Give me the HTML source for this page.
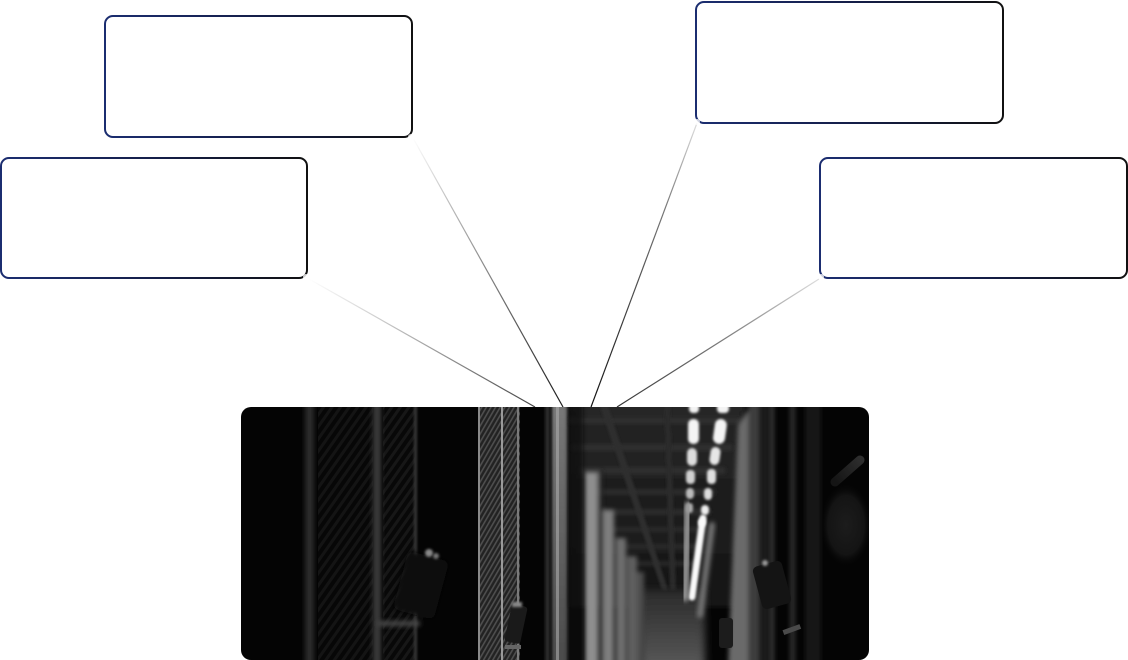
<!DOCTYPE html>
<html>
<head>
<meta charset="utf-8">
<style>
html,body{margin:0;padding:0;background:#fff;}
body{width:1128px;height:660px;overflow:hidden;font-family:"Liberation Sans",sans-serif;}
svg{display:block;}
</style>
</head>
<body>
<svg width="1128" height="660" viewBox="0 0 1128 660" xmlns="http://www.w3.org/2000/svg">
<defs>
  <linearGradient id="bd" x1="0" x2="1" y1="0" y2="0">
    <stop offset="0" stop-color="#1b2d70"/>
    <stop offset="0.55" stop-color="#141d45"/>
    <stop offset="1" stop-color="#111111"/>
  </linearGradient>
  <linearGradient id="l1" gradientUnits="userSpaceOnUse" x1="309" y1="279" x2="535" y2="407">
    <stop offset="0" stop-color="#ffffff"/><stop offset="0.3" stop-color="#cfcfcf"/><stop offset="1" stop-color="#444"/>
  </linearGradient>
  <linearGradient id="l2" gradientUnits="userSpaceOnUse" x1="413" y1="138" x2="563" y2="407">
    <stop offset="0" stop-color="#ffffff"/><stop offset="0.25" stop-color="#bbbbbb"/><stop offset="1" stop-color="#1a1a1a"/>
  </linearGradient>
  <linearGradient id="l3" gradientUnits="userSpaceOnUse" x1="697" y1="123" x2="591" y2="407">
    <stop offset="0" stop-color="#dddddd"/><stop offset="0.3" stop-color="#777"/><stop offset="1" stop-color="#111"/>
  </linearGradient>
  <linearGradient id="l4" gradientUnits="userSpaceOnUse" x1="819" y1="279" x2="617" y2="407">
    <stop offset="0" stop-color="#dddddd"/><stop offset="0.4" stop-color="#888"/><stop offset="1" stop-color="#333"/>
  </linearGradient>
  <clipPath id="ic"><rect x="241" y="407" width="628" height="253" rx="10"/></clipPath>
  <filter id="b1" x="-50%" y="-50%" width="200%" height="200%"><feGaussianBlur stdDeviation="1.2"/></filter>
  <filter id="b2" x="-50%" y="-50%" width="200%" height="200%"><feGaussianBlur stdDeviation="2.5"/></filter>
  <filter id="b4" x="-50%" y="-50%" width="200%" height="200%"><feGaussianBlur stdDeviation="4"/></filter>
  <pattern id="diag" width="7" height="7" patternUnits="userSpaceOnUse" patternTransform="rotate(35)">
    <rect width="7" height="7" fill="#080808"/><rect width="3" height="7" fill="#171717"/>
  </pattern>
  <pattern id="diag2" width="4" height="4" patternUnits="userSpaceOnUse" patternTransform="rotate(30)">
    <rect width="4" height="4" fill="#222"/><rect width="1.6" height="4" fill="#4e4e4e"/>
  </pattern>
  <linearGradient id="floor" x1="0" x2="0" y1="0" y2="1">
    <stop offset="0" stop-color="#2a2a2a"/><stop offset="1" stop-color="#5a5a5a"/>
  </linearGradient>
  <linearGradient id="wallL" x1="0" x2="0" y1="0" y2="1">
    <stop offset="0" stop-color="#9a9a9a"/><stop offset="1" stop-color="#5a5a5a"/>
  </linearGradient>
  <linearGradient id="ceil" x1="0" x2="0" y1="0" y2="1">
    <stop offset="0" stop-color="#262626"/><stop offset="1" stop-color="#151515"/>
  </linearGradient>
  <radialGradient id="hnd" cx="0.5" cy="0.5" r="0.5">
    <stop offset="0" stop-color="#1c1c1c"/><stop offset="0.7" stop-color="#141414"/><stop offset="1" stop-color="#050505" stop-opacity="0"/>
  </radialGradient>
  <linearGradient id="hbar" gradientUnits="userSpaceOnUse" x1="835" y1="480" x2="862" y2="458">
    <stop offset="0" stop-color="#1a1a1a"/><stop offset="1" stop-color="#3a3a3a"/>
  </linearGradient>
</defs>

<!-- connectors -->
<line x1="309" y1="279" x2="535" y2="407" stroke="url(#l1)" stroke-width="1.2"/>
<line x1="413" y1="138" x2="563" y2="407" stroke="url(#l2)" stroke-width="1.2"/>
<line x1="697" y1="123" x2="591" y2="407" stroke="url(#l3)" stroke-width="1.2"/>
<line x1="819" y1="279" x2="617" y2="407" stroke="url(#l4)" stroke-width="1.2"/>

<!-- boxes -->
<rect x="105" y="16" width="307" height="121" rx="8" fill="#fff" stroke="url(#bd)" stroke-width="2"/>
<rect x="1" y="158" width="306" height="120" rx="8" fill="#fff" stroke="url(#bd)" stroke-width="2"/>
<rect x="696" y="2" width="307" height="121" rx="8" fill="#fff" stroke="url(#bd)" stroke-width="2"/>
<rect x="820" y="158" width="307" height="120" rx="8" fill="#fff" stroke="url(#bd)" stroke-width="2"/>
<circle cx="411" cy="137" r="3" fill="#fff" opacity="0.8"/>
<circle cx="306" cy="277" r="3" fill="#fff" opacity="0.8"/>
<circle cx="697" cy="122" r="3" fill="#fff" opacity="0.8"/>
<circle cx="821" cy="277" r="3" fill="#fff" opacity="0.8"/>

<!-- photo -->
<g clip-path="url(#ic)">
  <rect x="241" y="407" width="628" height="253" fill="#040404"/>

  <!-- left panels -->
  <rect x="318" y="400" width="55" height="270" fill="url(#diag)" opacity="0.85"/>
  <rect x="383" y="400" width="32" height="270" fill="url(#diag)"/>
  <rect x="305" y="395" width="9" height="280" fill="#2a2a2a" filter="url(#b2)"/>
  <rect x="373" y="395" width="8" height="280" fill="#3a3a3a" filter="url(#b2)"/>
  <rect x="414" y="395" width="3" height="280" fill="#383838" filter="url(#b1)"/>
  <!-- left handle -->
  <g filter="url(#b2)">
    <rect x="400" y="555" width="42" height="60" rx="6" fill="#111" transform="rotate(15 420 585)"/>
    <rect x="378" y="621" width="42" height="5" fill="#4a4a4a"/>
  </g>
  <circle cx="429" cy="553" r="4" fill="#888" filter="url(#b1)"/>
  <circle cx="436" cy="556" r="3" fill="#777" filter="url(#b1)"/>

  <!-- textured strip -->
  <rect x="478" y="400" width="42" height="270" fill="url(#diag2)"/>
  <rect x="478" y="400" width="2" height="270" fill="#8a8a8a"/>
  <rect x="501" y="400" width="2" height="270" fill="#9a9a9a"/>
  <rect x="517" y="400" width="2" height="270" fill="#7a7a7a"/>
  <rect x="508" y="605" width="16" height="38" rx="3" fill="#1a1a1a" transform="rotate(12 516 624)"/>
  <rect x="512" y="602" width="10" height="5" fill="#888" filter="url(#b1)"/>
  <rect x="505" y="645" width="16" height="4" fill="#666"/>

  <!-- near corridor edge bars -->
  <rect x="545" y="395" width="5" height="280" fill="#2a2a2a" filter="url(#b1)"/>
  <rect x="552" y="395" width="16" height="280" fill="url(#wallL)" opacity="0.8" filter="url(#b1)"/>
  <rect x="556" y="400" width="3" height="270" fill="#aaa" opacity="0.6"/>

  <!-- corridor ceiling -->
  <rect x="570" y="395" width="175" height="212" fill="url(#ceil)" filter="url(#b2)"/>
  <g fill="#363636" filter="url(#b2)">
    <rect x="570" y="418" width="170" height="5"/>
    <rect x="572" y="445" width="160" height="5"/>
    <rect x="580" y="468" width="145" height="5"/>
    <rect x="590" y="490" width="125" height="4"/>
    <rect x="600" y="510" width="110" height="4"/>
    <rect x="610" y="528" width="95" height="3"/>
    <rect x="620" y="545" width="80" height="3"/>
    <rect x="630" y="562" width="65" height="3"/>
  </g>
  <polygon points="598,400 606,400 668,590 662,590" fill="#2e2e2e" filter="url(#b1)"/>
  <polygon points="664,400 670,400 676,590 670,590" fill="#2a2a2a" filter="url(#b1)"/>

  <!-- floor -->
  <rect x="640" y="590" width="65" height="80" fill="url(#floor)" filter="url(#b4)"/>

  <!-- left corridor walls -->
  <g filter="url(#b2)">
    <rect x="585" y="472" width="13" height="200" fill="#8e8e8e"/>
    <rect x="599" y="470" width="4" height="200" fill="#222"/>
    <rect x="603" y="510" width="11" height="160" fill="#7e7e7e"/>
    <rect x="616" y="538" width="10" height="132" fill="#6e6e6e"/>
    <rect x="627" y="556" width="10" height="114" fill="#5e5e5e"/>
    <rect x="637" y="572" width="7" height="98" fill="#4e4e4e"/>
  </g>
  <rect x="568" y="395" width="15" height="280" fill="#111" opacity="0.7" filter="url(#b2)"/>

  <!-- lights -->
  <g fill="#f4f4f4" filter="url(#b1)">
    <rect x="689" y="403" width="10" height="10" rx="4"/>
    <rect x="717" y="403" width="12" height="10" rx="4"/>
    <rect x="688" y="419" width="11" height="25" rx="5"/>
    <rect x="714" y="419" width="12" height="25" rx="6" transform="rotate(8 720 431)"/>
    <rect x="687" y="448" width="10" height="18" rx="5" fill="#ddd"/>
    <rect x="710" y="447" width="10" height="18" rx="5" fill="#e6e6e6" transform="rotate(8 715 456)"/>
    <rect x="686" y="470" width="9" height="14" rx="4" fill="#d0d0d0"/>
    <rect x="707" y="469" width="9" height="15" rx="4" fill="#e0e0e0"/>
    <rect x="686" y="488" width="8" height="11" rx="4" fill="#bbb"/>
    <rect x="704" y="488" width="8" height="12" rx="4" fill="#ddd"/>
    <rect x="686" y="503" width="7" height="10" rx="3" fill="#aaa"/>
    <rect x="701" y="505" width="8" height="10" rx="4" fill="#eee"/>
    <rect x="698" y="518" width="8" height="9" rx="4" fill="#f0f0f0"/>
  </g>
  <line x1="703" y1="518" x2="692" y2="597" stroke="#fafafa" stroke-width="7" stroke-linecap="round" filter="url(#b1)"/>
  <line x1="688" y1="505" x2="685" y2="598" stroke="#9a9a9a" stroke-width="7" stroke-linecap="round" filter="url(#b2)"/>
  <line x1="712" y1="525" x2="700" y2="615" stroke="#777" stroke-width="6" stroke-linecap="round" filter="url(#b2)"/>

  <!-- right corridor walls -->
  <g filter="url(#b2)">
    <polygon points="738,425 748,410 748,670 728,670" fill="#6a6a6a"/>
    <rect x="748" y="395" width="12" height="280" fill="#3e3e3e"/>
    <rect x="762" y="395" width="6" height="280" fill="#1c1c1c"/>
    <rect x="770" y="395" width="4" height="280" fill="#3a3a3a"/>
    <rect x="790" y="395" width="5" height="280" fill="#2e2e2e"/>
    <rect x="805" y="395" width="16" height="280" fill="#141414"/>
  </g>
  <!-- right handles -->
  <rect x="757" y="563" width="30" height="44" rx="5" fill="#141414" transform="rotate(-15 772 585)"/>
  <circle cx="765" cy="563" r="3" fill="#999" filter="url(#b1)"/>
  <rect x="719" y="618" width="14" height="30" rx="3" fill="#1c1c1c"/>
  <rect x="783" y="627" width="18" height="5" fill="#4a4a4a" transform="rotate(-20 792 630)"/>
  <!-- soft far-right handle (gradient instead of heavy blur) -->
  <ellipse cx="846" cy="525" rx="26" ry="42" fill="url(#hnd)"/>
  <line x1="835" y1="482" x2="860" y2="460" stroke="url(#hbar)" stroke-width="9" stroke-linecap="round" opacity="0.8"/>
</g>
</svg>
</body>
</html>
